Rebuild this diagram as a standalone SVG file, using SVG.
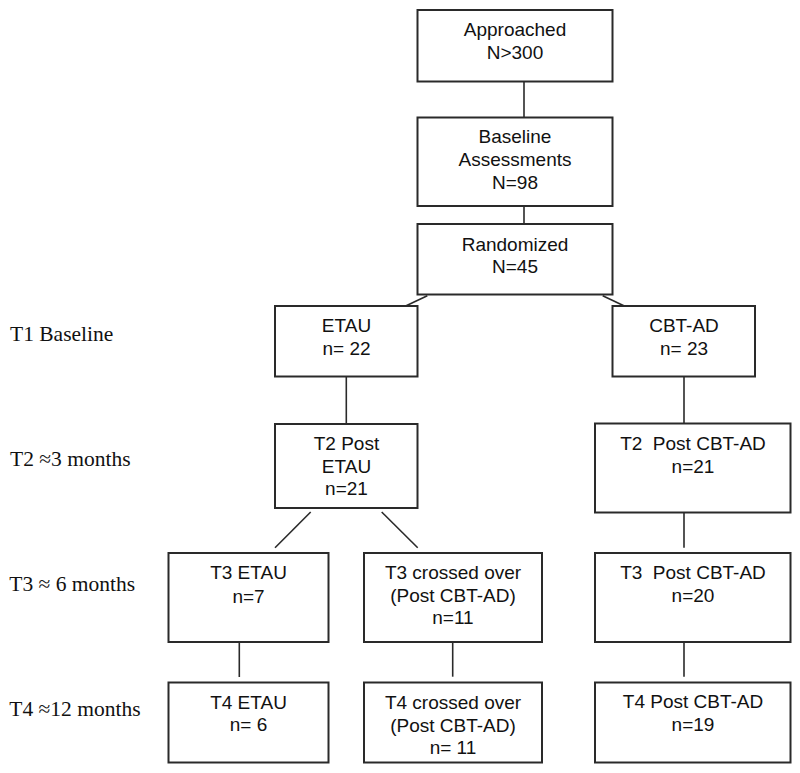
<svg xmlns="http://www.w3.org/2000/svg" width="800" height="773" viewBox="0 0 800 773">
<style>
.box{fill:#fff;stroke:#2a2a2a;stroke-width:2}
.t{font-family:"Liberation Sans",Arial,sans-serif;font-size:19px;fill:#111;text-anchor:middle}
.lbl{font-family:"Liberation Serif","Times New Roman",serif;font-size:21.5px;fill:#111}
.c line{stroke:#2a2a2a;stroke-width:1.6}
</style>
<rect width="800" height="773" fill="#fff"/>
<g class="c" id="connectors">
<line x1="524" y1="81.5" x2="524" y2="117.5"/>
<line x1="524" y1="206" x2="524" y2="224"/>
<line x1="427.3" y1="295.7" x2="399.3" y2="309"/>
<line x1="602.7" y1="295.7" x2="630.7" y2="309"/>
<line x1="346.3" y1="373.5" x2="346.3" y2="427.5"/>
<line x1="684" y1="373.5" x2="684" y2="427.5"/>
<line x1="310.7" y1="512" x2="275" y2="547.7"/>
<line x1="381.7" y1="512" x2="417.7" y2="547.7"/>
<line x1="684" y1="512.7" x2="684" y2="547.7"/>
<line x1="239.3" y1="641" x2="239.3" y2="677"/>
<line x1="452.7" y1="641" x2="452.7" y2="676.7"/>
<line x1="684" y1="642" x2="684" y2="676.7"/>
</g>
<g id="approached"><rect class="box" x="417.5" y="10" width="195" height="71.5"/><text class="t" x="515" y="36">Approached</text><text class="t" x="515" y="59">N&gt;300</text></g>
<g id="baseline"><rect class="box" x="417.5" y="117.5" width="195" height="88.5"/><text class="t" x="515" y="143">Baseline</text><text class="t" x="515" y="166">Assessments</text><text class="t" x="515" y="189">N=98</text></g>
<g id="randomized"><rect class="box" x="417.5" y="224" width="195" height="70.5"/><text class="t" x="515" y="251">Randomized</text><text class="t" x="515" y="273">N=45</text></g>
<g id="etau"><rect class="box" x="275" y="306" width="142.5" height="70.5"/><text class="t" x="346.5" y="332">ETAU</text><text class="t" x="346.5" y="355">n= 22</text></g>
<g id="cbtad"><rect class="box" x="612.5" y="306" width="142.5" height="70.5"/><text class="t" x="684" y="332">CBT-AD</text><text class="t" x="684" y="355">n= 23</text></g>
<g id="t2etau"><rect class="box" x="275" y="424" width="142.5" height="84"/><text class="t" x="346.5" y="450">T2 Post</text><text class="t" x="346.5" y="473">ETAU</text><text class="t" x="346.5" y="495">n=21</text></g>
<g id="t2cbt"><rect class="box" x="595" y="423.5" width="195.5" height="89"/><text class="t" x="693" y="450" xml:space="preserve">T2  Post CBT-AD</text><text class="t" x="693" y="473">n=21</text></g>
<g id="t3etau"><rect class="box" x="168.5" y="553" width="160" height="89"/><text class="t" x="248.5" y="579">T3 ETAU</text><text class="t" x="248.5" y="602.5">n=7</text></g>
<g id="t3cross"><rect class="box" x="364" y="553" width="178" height="89"/><text class="t" x="453" y="579">T3 crossed over</text><text class="t" x="453" y="601.7">(Post CBT-AD)</text><text class="t" x="453" y="624.3">n=11</text></g>
<g id="t3cbt"><rect class="box" x="595" y="553" width="195.5" height="89"/><text class="t" x="693" y="579" xml:space="preserve">T3  Post CBT-AD</text><text class="t" x="693" y="601.7">n=20</text></g>
<g id="t4etau"><rect class="box" x="168.5" y="682.5" width="160" height="80"/><text class="t" x="248.5" y="708.5">T4 ETAU</text><text class="t" x="248.5" y="731">n= 6</text></g>
<g id="t4cross"><rect class="box" x="364" y="682.5" width="178" height="80"/><text class="t" x="453" y="709.3">T4 crossed over</text><text class="t" x="453" y="731.7">(Post CBT-AD)</text><text class="t" x="453" y="754">n= 11</text></g>
<g id="t4cbt"><rect class="box" x="595" y="682.5" width="195.5" height="80"/><text class="t" x="693" y="708.3">T4 Post CBT-AD</text><text class="t" x="693" y="730.7">n=19</text></g>
<g id="labels">
<text class="lbl" x="10" y="341">T1 Baseline</text>
<text class="lbl" x="10" y="465.7">T2 ≈3 months</text>
<text class="lbl" x="9.3" y="590.7">T3 ≈ 6 months</text>
<text class="lbl" x="9.3" y="715.7">T4 ≈12 months</text>
</g>
</svg>
